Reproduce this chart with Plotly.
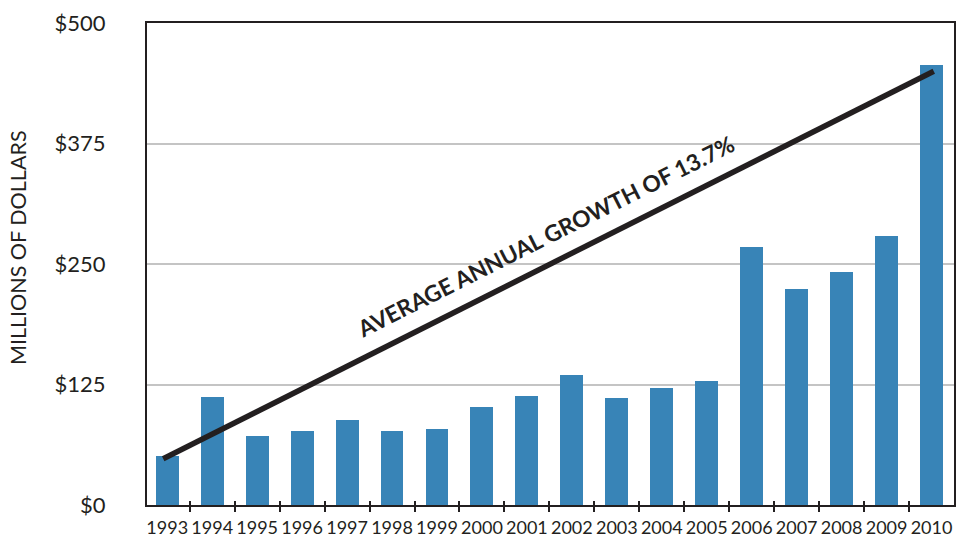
import plotly.graph_objects as go

# Annual totals, millions of dollars
years = ["1993", "1994", "1995", "1996", "1997", "1998", "1999", "2000", "2001",
         "2002", "2003", "2004", "2005", "2006", "2007", "2008", "2009", "2010"]
values = [51, 112, 72, 77, 88, 77, 79, 102, 113,
          135, 111, 121, 129, 268, 224, 242, 279, 456]

# Straight growth line drawn across the bars (x in bar-index units)
trend_x = [-0.09, 17.05]
trend_y = [48, 450]
trend_label = "AVERAGE ANNUAL GROWTH OF 13.7%"

y_ticks = [0, 125, 250, 375, 500]
y_ticktext = ["$0", "$125", "$250", "$375", "$500"]
y_title = "MILLIONS OF DOLLARS"

idx = list(range(len(years)))
boundaries = [i + 0.5 for i in range(len(years) - 1)]
x_range = [-0.45, 17.5]

INK = "#231f20"
BAR = "#3884b7"
FONT = "Lato"

fig = go.Figure()
fig.add_trace(go.Bar(x=idx, y=values, width=0.51, marker=dict(color=BAR, line=dict(width=0)),
                     showlegend=False, hoverinfo="skip"))
fig.add_trace(go.Scatter(x=trend_x, y=trend_y, mode="lines",
                         line=dict(color=INK, width=5.5), showlegend=False, hoverinfo="skip"))

# Trend label sits just above the line, rotated to its slope
fig.add_annotation(x=8.41, y=279, xref="x", yref="y", text=trend_label, showarrow=False,
                   textangle=-26.7, font=dict(family=FONT, size=22.8, color=INK, weight="bold"))

# Vertical axis title, placed in the left margin
fig.add_annotation(x=-0.16, y=0.535, xref="paper", yref="paper", text=y_title, showarrow=False,
                   textangle=-90, xanchor="center", yanchor="middle",
                   font=dict(family=FONT, size=21.5, color=INK))

fig.update_layout(
    width=958, height=537,
    margin=dict(l=147, r=4, t=23, b=32, autoexpand=False),
    paper_bgcolor="white", plot_bgcolor="white",
    bargap=0,
    xaxis=dict(range=x_range, tickmode="array", tickvals=idx, ticktext=years, ticks="",
               tickangle=0, automargin=False,
               showgrid=False, zeroline=False, showline=True, mirror=True,
               linecolor=INK, linewidth=2.2, ticklabelstandoff=5,
               tickfont=dict(family=FONT, size=18, color=INK)),
    xaxis2=dict(range=x_range, overlaying="x", anchor="y", tickmode="array", tickvals=boundaries,
                ticks="outside", ticklen=6, tickwidth=2, tickcolor=INK, showticklabels=False,
                showgrid=False, zeroline=False, showline=False),
    xaxis3=dict(range=x_range, overlaying="x", anchor="y", tickmode="array", tickvals=boundaries,
                ticks="inside", ticklen=4, tickwidth=2, tickcolor=INK, showticklabels=False,
                showgrid=False, zeroline=False, showline=False),
    yaxis=dict(range=[0, 500], tickmode="array", tickvals=y_ticks, ticktext=y_ticktext,
               ticks="", showgrid=True, gridcolor="#c4c4c4", gridwidth=1.5, zeroline=False,
               showline=True, mirror=True, linecolor=INK, linewidth=2.2,
               ticklabelstandoff=35, automargin=False,
               tickfont=dict(family=FONT, size=22, color=INK)),
)

# Empty traces keep the overlaid tick axes in place
fig.add_trace(go.Scatter(x=[None], y=[None], xaxis="x2", showlegend=False, hoverinfo="skip"))
fig.add_trace(go.Scatter(x=[None], y=[None], xaxis="x3", showlegend=False, hoverinfo="skip"))

fig.write_html("out.html")
